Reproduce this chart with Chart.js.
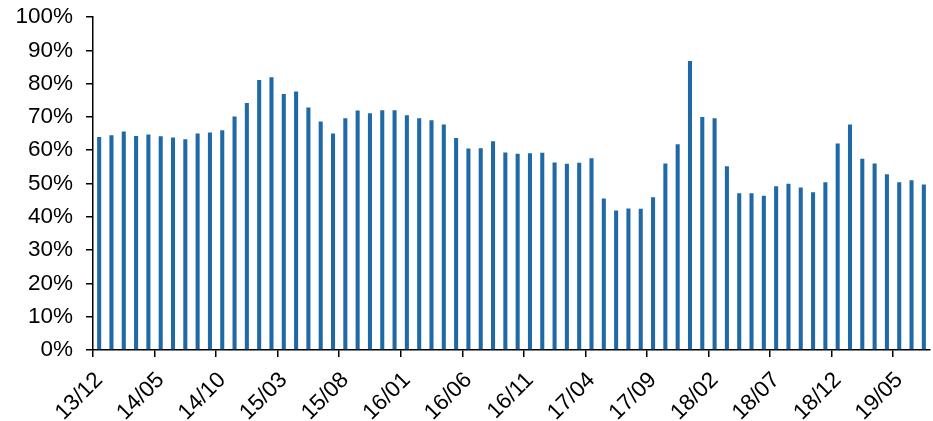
<!DOCTYPE html>
<html>
<head>
<meta charset="utf-8">
<script src="https://cdn.jsdelivr.net/npm/chart.js@4.4.1/dist/chart.umd.min.js"></script>
<style>
html,body{margin:0;padding:0;background:#fff;}
#wrap{width:933px;height:421px;position:relative;}
</style>
</head>
<body>
<div id="wrap"><canvas id="c" width="933" height="421"></canvas></div>
<script>
const categories = [
"13/12","14/01","14/02","14/03","14/04","14/05","14/06","14/07","14/08","14/09","14/10","14/11",
"14/12","15/01","15/02","15/03","15/04","15/05","15/06","15/07","15/08","15/09","15/10","15/11",
"15/12","16/01","16/02","16/03","16/04","16/05","16/06","16/07","16/08","16/09","16/10","16/11",
"16/12","17/01","17/02","17/03","17/04","17/05","17/06","17/07","17/08","17/09","17/10","17/11",
"17/12","18/01","18/02","18/03","18/04","18/05","18/06","18/07","18/08","18/09","18/10","18/11",
"18/12","19/01","19/02","19/03","19/04","19/05","19/06","19/07"];
const values = [
64.0,64.5,65.6,64.3,64.7,64.2,63.8,63.3,65.0,65.3,66.0,70.1,
74.2,81.1,81.9,76.9,77.6,72.8,68.6,65.0,69.6,71.9,71.1,72.0,
72.0,70.5,69.6,69.0,67.7,63.7,60.5,60.6,62.7,59.3,58.9,59.1,
59.2,56.3,55.9,56.2,57.6,45.5,41.9,42.5,42.4,45.9,56.0,61.8,
86.8,70.0,69.6,55.2,47.1,47.1,46.3,49.2,49.9,48.8,47.4,50.4,
62.0,67.7,57.4,56.0,52.8,50.4,51.0,49.7];
const yTicks = [0,10,20,30,40,50,60,70,80,90,100];
const labelStep = 5;

Chart.defaults.font.family = "'Liberation Sans', Arial, sans-serif";
Chart.defaults.color = '#000';

new Chart(document.getElementById('c'), {
  type: 'bar',
  data: {
    labels: categories,
    datasets: [{
      data: values,
      backgroundColor: '#1f6aa6',
      borderWidth: 0,
      barPercentage: 0.33,
      categoryPercentage: 1.0
    }]
  },
  options: {
    responsive: false,
    animation: false,
    devicePixelRatio: 1,
    layout: { padding: { left: 0, right: 3, top: 17, bottom: 0 } },
    plugins: { legend: { display: false }, tooltip: { enabled: false } },
    scales: {
      x: {
        offset: true,
        afterFit: (axis) => { axis.height = 71; axis.paddingLeft = 0; axis.paddingRight = 0; },
        grid: {
          offset: true,
          drawOnChartArea: false,
          drawTicks: true,
          tickLength: 7,
          lineWidth: 1.5,
          color: (ctx) => (ctx.index % labelStep === 0 ? '#000' : 'rgba(0,0,0,0)')
        },
        border: { display: true, color: '#000', width: 1.5 },
        ticks: {
          autoSkip: false,
          maxRotation: 45,
          minRotation: 45,
          padding: 10,
          font: { size: 22.5 },
          callback: function(v, i) { return i % labelStep === 0 ? categories[i] : ''; }
        }
      },
      y: {
        min: 0,
        max: 100,
        afterBuildTicks: (axis) => { axis.ticks = yTicks.map(v => ({ value: v })); },
        afterFit: (axis) => { axis.width = 93; axis.paddingTop = 0; axis.paddingBottom = 0; },
        grid: {
          drawOnChartArea: false,
          drawTicks: true,
          tickLength: 7,
          lineWidth: 1.5,
          color: '#000'
        },
        border: { display: true, color: '#000', width: 1.5 },
        ticks: {
          padding: 13,
          font: { size: 22.5 },
          callback: (v) => v + '%'
        }
      }
    }
  }
});
</script>
</body>
</html>
